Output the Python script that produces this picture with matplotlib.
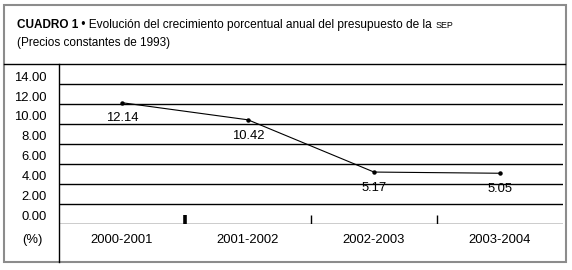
import matplotlib
matplotlib.use("Agg")
import matplotlib.pyplot as plt
from matplotlib.lines import Line2D
from matplotlib.patches import Rectangle
from matplotlib.transforms import offset_copy

# ---- data ----
categories = ["2000-2001", "2001-2002", "2002-2003", "2003-2004"]
values = [12.14, 10.42, 5.17, 5.05]
value_labels = ["12.14", "10.42", "5.17", "5.05"]
yticks = [0, 2, 4, 6, 8, 10, 12, 14]
ytick_labels = ["0.00", "2.00", "4.00", "6.00", "8.00", "10.00", "12.00", "14.00"]
unit_label = "(%)"
title_bold = "CUADRO 1"
title_main = " \u2022 Evoluci\u00f3n del crecimiento porcentual anual del presupuesto de la "
title_small = "SEP"
subtitle = "(Precios constantes de 1993)"

W, H = 572, 270
plt.rcParams['font.family'] = ['Liberation Sans', 'DejaVu Sans']
fig = plt.figure(figsize=(W / 100, H / 100), dpi=100)
fig.patch.set_facecolor("white")

def fx(px):
    return px / W

def fy(py):
    return 1 - py / H

# axes: left 59, right 563, top 64.3 (=16), bottom 223.5 (=0)
ax = fig.add_axes([fx(59), fy(223.5), fx(563) - fx(59), fy(64.3) - fy(223.5)])
ax.set_xlim(-0.5, len(categories) - 0.5)
ax.set_ylim(0, 16)
for s in ax.spines.values():
    s.set_visible(False)
ax.set_xticks([])
ax.set_yticks([])

# horizontal gridlines (0..14), top border handled separately
for t in yticks:
    ax.axhline(t, color="black", lw=1.0, zorder=1)

# y tick labels (right aligned, sitting just above the gridline)
lab_tr = offset_copy(ax.get_yaxis_transform(), fig=fig, x=-12, y=0.5, units="dots")
for t, lab in zip(yticks, ytick_labels):
    ax.text(0, t, lab, transform=lab_tr, ha="right", va="bottom", fontsize=9.4,
            color="black")

# category boundary ticks
for i in range(1, len(categories)):
    ax.plot([i - 0.5, i - 0.5], [0, 0.9], color="black",
            lw=2.6 if i == 1 else 1.0, solid_capstyle="butt", zorder=2)

# line series
xs = list(range(len(categories)))
ax.plot(xs, values, color="black", lw=0.8, marker="o", markersize=2.2, zorder=3)
for x, v, lab in zip(xs, values, value_labels):
    ax.annotate(lab, (x, v), xytext=(0, -7), textcoords="offset points",
                ha="center", va="top", fontsize=9.4)

# category labels below axis
for x, c in zip(xs, categories):
    ax.text(x, 0, c, transform=offset_copy(ax.transData, fig=fig, x=0, y=-16.5, units="dots"),
            ha="center", va="center", fontsize=9.4)
fig.text(fx(32.5), fy(240), unit_label, ha="center", va="center", fontsize=9.4)

# table lines: top line across full width, vertical divider
fig.add_artist(Line2D([fx(4), fx(565)], [fy(64.3), fy(64.3)], color="black", lw=1.0))
fig.add_artist(Line2D([fx(59.3), fx(59.3)], [fy(64.3), fy(262)], color="black", lw=1.0))

# outer gray border
fig.add_artist(Rectangle((fx(4), fy(262)), fx(566) - fx(4), fy(5) - fy(262),
                         fill=False, edgecolor="#8c8c8c", lw=1.5))

# title pieces
fig.canvas.draw()
renderer = fig.canvas.get_renderer()
x0 = 16.7
base1 = 28.0
t1 = fig.text(fx(x0), fy(base1), title_bold, fontsize=8.5, fontweight="bold",
              ha="left", va="baseline")
w = t1.get_window_extent(renderer).width
t2 = fig.text(fx(x0 + w), fy(base1), title_main, fontsize=8.6, ha="left", va="baseline")
w2 = t2.get_window_extent(renderer).width
fig.text(fx(x0 + w + w2), fy(base1), title_small, fontsize=6.4, ha="left", va="baseline")
fig.text(fx(x0), fy(45.7), subtitle, fontsize=8.5, ha="left", va="baseline")

fig.savefig("out.png", dpi=100, facecolor="white")
